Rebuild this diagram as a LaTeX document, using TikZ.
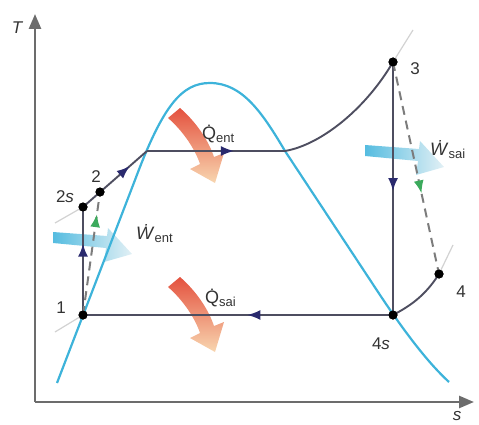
\documentclass[tikz,border=0pt]{standalone}
\usepackage{fontspec}
\setmainfont{Liberation Sans}
\usetikzlibrary{arrows.meta,decorations.markings}
\definecolor{domecol}{HTML}{3DB3DA}
\definecolor{cyclecol}{HTML}{4E4E60}
\definecolor{navycol}{HTML}{2A2A6E}
\definecolor{greencol}{HTML}{3BAA5C}
\definecolor{dashcol}{HTML}{7C7C7C}
\definecolor{axiscol}{HTML}{6C6C6C}
\definecolor{faintcol}{HTML}{D2D2D2}
\definecolor{labelcol}{HTML}{333333}
\definecolor{heatred}{HTML}{E4513E}
\definecolor{heatorange}{HTML}{EF8D3C}
\definecolor{heatlight}{HTML}{F8D6B0}
\definecolor{workblue}{HTML}{55BCE0}
\definecolor{worklight}{HTML}{E2F0F5}
\tikzset{
  dome/.style={draw=domecol, line width=2.2pt},
  cyc/.style={draw=cyclecol, line width=1.9pt},
  axisline/.style={draw=axiscol, line width=2.6pt, -{Triangle[length=15pt,width=12pt]}},
  faint/.style={draw=faintcol, line width=1.2pt},
  dashln/.style={draw=dashcol, line width=2pt, dash pattern=on 9pt off 6pt},
  navyat/.style={postaction={decorate}, decoration={markings,
      mark=at position #1 with {\arrow[navycol]{Latex[length=13pt,width=10pt]}}}},
  greenat/.style={postaction={decorate}, decoration={markings,
      mark=at position #1 with {\arrow[greencol]{Latex[length=13pt,width=10pt]}}}},
  statept/.style={circle, fill=black, inner sep=0pt, minimum size=9pt},
  lbl/.style={text=labelcol, font=\fontsize{17}{20}\selectfont, inner sep=0pt},
  qlbl/.style={text=labelcol, font=\fontsize{18}{20}\selectfont, inner sep=0pt, anchor=west},
}
\newcommand\subtxt[1]{\raisebox{-3pt}{\fontsize{13}{14}\selectfont #1}}
\begin{document}
\begin{tikzpicture}[x=1pt,y=-1pt]
\useasboundingbox (0,0) rectangle (479,425);
% heat arrows
\shade[top color=heatred, middle color=heatorange, bottom color=heatlight]
  (168,118) -- (180,108) .. controls (195,121) and (208,139) .. (214,157) -- (224,153) -- (215,183) -- (190,169) -- (200,164) .. controls (195,149) and (183,131) .. (168,118) -- cycle;
\begin{scope}[shift={(0,169)}]
\shade[top color=heatred, middle color=heatorange, bottom color=heatlight]
  (168,118) -- (180,108) .. controls (195,121) and (208,139) .. (214,157) -- (224,153) -- (215,183) -- (190,169) -- (200,164) .. controls (195,149) and (183,131) .. (168,118) -- cycle;
\end{scope}
% work arrows
\shade[left color=workblue, right color=worklight]
  (53,232) -- (107,236) -- (108,228) -- (132,254) -- (104,262) -- (106,248) -- (53,243) -- cycle;
\begin{scope}[shift={(312,-87)}]
\shade[left color=workblue, right color=worklight]
  (53,232) -- (107,236) -- (108,228) -- (132,254) -- (104,262) -- (106,248) -- (53,243) -- cycle;
\end{scope}
% axes
\coordinate (O) at (35,402);
\coordinate (Ttop) at (35,14);
\coordinate (Send) at (474,402);
\draw[axisline] (O) -- (Ttop);
\draw[axisline] (O) -- (Send);
\node[lbl, font=\fontsize{17}{20}\selectfont\itshape] (Tlbl) at (17,28) {T};
\node[lbl, font=\fontsize{17}{20}\selectfont\itshape] (Slbl) at (457,416) {s};
% saturation dome
\draw[dome] (57,383) -- (135,180) .. controls (163,105) and (182,83) .. (210,83)
  .. controls (242,83) and (262,112) .. (285,151) -- (380,295)
  .. controls (400,325) and (425,360) .. (449,382);
% state points
\node[statept] (p1) at (83,315) {};
\node[statept] (p2s) at (83,207) {};
\node[statept] (p2) at (100,192) {};
\node[statept] (p3) at (393,62) {};
\node[statept] (p4) at (439,274) {};
\node[statept] (p4s) at (393,315) {};
\coordinate (a) at (147,151);
\coordinate (b) at (285,151);
% faint isobar extensions
\coordinate (f1) at (55,332);
\coordinate (f2s) at (55,223);
\coordinate (f3) at (413,30);
\coordinate (f4) at (453,245);
\draw[faint] (p1.center) -- (f1);
\draw[faint] (p2s.center) -- (f2s);
\draw[faint] (p3.center) -- (f3);
\draw[faint] (p4.center) -- (f4);
% cycle
\draw[cyc, navyat=0.66] (p1.center) -- (p2s.center);
\draw[cyc, navyat=0.73] (p2s.center) -- (a);
\draw[cyc, navyat=0.63] (a) -- (b);
\draw[cyc] (b) .. controls (320,145) and (365,110) .. (p3.center);
\draw[cyc, navyat=0.51] (p3.center) -- (p4s.center);
\draw[cyc] (p4.center) .. controls (425,296) and (410,306) .. (p4s.center);
\draw[cyc, navyat=0.47] (p4s.center) -- (p1.center);
\draw[dashln, greenat=0.62] (p3.center) -- (p4.center);
\draw[dashln, greenat=0.82] (p1.center) -- (p2.center);
% redraw dots on top
\foreach \p in {p1,p2s,p2,p3,p4,p4s} \fill[black] (\p) circle (4.5pt);
% labels
\node[lbl] (l1) at (61,308) {1};
\node[lbl] (l2s) at (65,197) {2\textit{s}};
\node[lbl] (l2) at (96,177) {2};
\node[lbl] (l3) at (415,69) {3};
\node[lbl] (l4) at (461,292) {4};
\node[lbl] (l4s) at (381,344) {4\textit{s}};
\node[qlbl] (qin) at (202,134) {\.{Q}\subtxt{ent}};
\node[qlbl] (qout) at (205,298) {\.{Q}\subtxt{sai}};
\node[qlbl] (win) at (136,234) {\textit{\.{W}}\subtxt{ent}};
\node[qlbl] (wout) at (430,150) {\textit{\.{W}}\subtxt{sai}};
\end{tikzpicture}
\end{document}
